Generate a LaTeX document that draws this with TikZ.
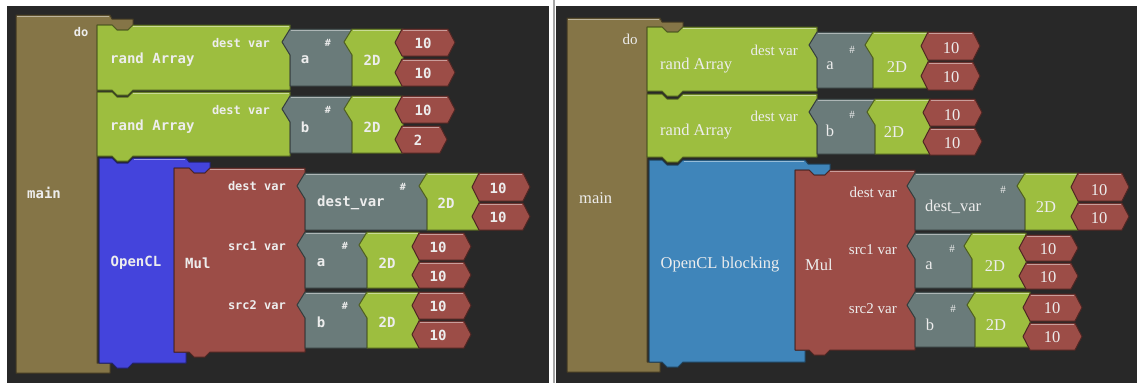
\documentclass[tikz,border=0pt]{standalone}
\usepackage{fontspec}
\newfontfamily\lmono{DejaVu Sans Mono}
\newfontfamily\rserif{Liberation Serif}
\definecolor{bgC}{HTML}{282828}
\definecolor{oliveC}{HTML}{857547}
\definecolor{greenC}{HTML}{9DBE3F}
\definecolor{grayC}{HTML}{6A7B7A}
\definecolor{redC}{HTML}{9C4D47}
\definecolor{blueL}{HTML}{4444DC}
\definecolor{blueR}{HTML}{3F85BA}
\definecolor{txtC}{HTML}{EDEDED}
\tikzset{
  blk/.style={line width=1pt, line join=round},
  hl/.style={line width=1.2pt, draw=#1!55!white},
  lt/.style={text=txtC, inner sep=0pt, font=\lmono\bfseries\fontsize{14}{16}\selectfont},
  ltl/.style={text=txtC, inner sep=0pt, font=\lmono\bfseries\fontsize{12}{14}\selectfont},
  lth/.style={text=txtC, inner sep=0pt, font=\lmono\bfseries\fontsize{10}{12}\selectfont},
  rt/.style={text=txtC, inner sep=0pt, font=\rserif\fontsize{16.5}{18}\selectfont},
  rtl/.style={text=txtC, inner sep=0pt, font=\rserif\fontsize{15}{17}\selectfont},
  rth/.style={text=txtC, inner sep=0pt, font=\rserif\fontsize{11}{13}\selectfont},
}
% statement block: x0 y0 x1 y1 colour notch-offset
\newcommand{\stmtblk}[6]{%
  \filldraw[blk, fill=#5, draw=#5!50!black] (#1,#2) -- ({#1+#6},#2) -- ++(5,5) -- ++(11,0) -- ++(5,-5) -- (#3,#2) -- (#3,#4) -- ({#1+#6+21},#4) -- ++(-5,5) -- ++(-11,0) -- ++(-5,-5) -- (#1,#4) -- cycle;
  \draw[hl=#5] ({#1+#6+21},{#2+1.5}) -- ({#3-1},{#2+1.5});}
% value block with left plug
\newcommand{\valblk}[5]{%
  \filldraw[blk, fill=#5, draw=#5!50!black] (#1,#2) -- (#3,#2) -- (#3,#4) -- (#1,#4) -- (#1,{#2+26}) -- ({#1-8},{#2+13}) -- cycle;
  \draw[hl=#5] ({#1+1},{#2+1.5}) -- ({#3-1},{#2+1.5});}
% number hexagon
\newcommand{\hexblk}[4]{%
  \filldraw[blk, fill=redC, draw=redC!50!black] (#1,#2) -- (#3,#2) -- ({#3+7},{(#2+#4)/2}) -- (#3,#4) -- (#1,#4) -- ({#1-7},{(#2+#4)/2}) -- cycle;
  \draw[hl=redC] ({#1+1},{#2+1.5}) -- ({#3-1},{#2+1.5});}
\begin{document}
\begin{tikzpicture}[x=1pt,y=-1pt]
\useasboundingbox (0,0) rectangle (1137,383);
\fill[white] (0,0) rectangle (1137,383);
\fill[bgC] (7,6) rectangle (549,383);
\fill[bgC] (556,6) rectangle (1137,383);
\draw[black!35, line width=1.5pt] (554,0) -- (554,383);

% ================= LEFT PANEL =================
\filldraw[blk, fill=oliveC, draw=oliveC!50!black] (16,15) -- (110,15) -- (112,19) -- (133,19) -- (133,25) -- (128,30) -- (117,30) -- (112,25) -- (97,25) -- (97,363) -- (110,363) -- (110,373) -- (16,373) -- cycle;
\draw[hl=oliveC] (17,16.5) -- (109,16.5);
\stmtblk{97}{25}{290}{90}{greenC}{15}
\valblk{290}{29}{352}{86}{grayC}
\valblk{352}{29}{403}{86}{greenC}
\hexblk{402}{29}{448}{56}
\hexblk{402}{59}{448}{86}
\stmtblk{97}{92}{290}{156}{greenC}{15}
\valblk{290}{96}{352}{153}{grayC}
\valblk{352}{96}{403}{153}{greenC}
\hexblk{402}{96}{448}{123}
\hexblk{402}{126}{440}{153}
\filldraw[blk, fill=blueL, draw=blueL!50!black] (99,158) -- (112,158) -- (117,163) -- (128,163) -- (133,158) -- (186,158) -- (189,162) -- (210,162) -- (210,168) -- (205,173) -- (194,173) -- (189,168) -- (174,168) -- (174,352) -- (186,352) -- (186,363) -- (133,363) -- (128,368) -- (117,368) -- (112,363) -- (99,363) -- cycle;
\draw[hl=blueL] (134,159.5) -- (185,159.5);
\stmtblk{174}{168}{305}{352}{redC}{15}
\valblk{305}{173}{427}{230}{grayC}
\valblk{427}{173}{479}{230}{greenC}
\hexblk{479}{173}{523}{201}
\hexblk{479}{203}{523}{230}
\valblk{305}{232}{367}{288}{grayC}
\valblk{367}{232}{419}{288}{greenC}
\hexblk{419}{233}{464}{260}
\hexblk{419}{262}{464}{288}
\valblk{305}{292}{367}{348}{grayC}
\valblk{367}{292}{419}{348}{greenC}
\hexblk{419}{292}{464}{319}
\hexblk{419}{321}{464}{348}

\node[ltl] (Ldo) at (81,32) {do};
\node[lt, anchor=west] (Lmain) at (27,193) {main};
\node[lt, anchor=west] (Lrand1) at (110,60) {rand Array};
\node[ltl, anchor=east] (Ldv1) at (270,43) {dest var};
\node[lt] (La1) at (305,60) {a};
\node[lth] (Lh1) at (328,43) {\#};
\node[lt] (L2d1) at (372,60) {2D};
\node[lt] (Ln11) at (423,43) {10};
\node[lt] (Ln12) at (423,73) {10};
\node[lt, anchor=west] (Lrand2) at (110,127) {rand Array};
\node[ltl, anchor=east] (Ldv2) at (270,110) {dest var};
\node[lt] (Lb2) at (305,127) {b};
\node[lth] (Lh2) at (328,110) {\#};
\node[lt] (L2d2) at (372,127) {2D};
\node[lt] (Ln21) at (423,110) {10};
\node[lt] (Ln22) at (418,140) {2};
\node[lt] (Locl) at (136,263) {OpenCL};
\node[lt, anchor=west] (Lmul) at (185,263) {Mul};
\node[ltl, anchor=east] (Lmdv) at (286,186) {dest var};
\node[ltl, anchor=east] (Lms1) at (286,246) {src1 var};
\node[ltl, anchor=east] (Lms2) at (286,305) {src2 var};
\node[lt, anchor=west] (Ldvv) at (317,203) {dest\_var};
\node[lth] (Lh3) at (403,187) {\#};
\node[lt] (L2d3) at (446,203) {2D};
\node[lt] (Ln31) at (498,188) {10};
\node[lt] (Ln32) at (498,217) {10};
\node[lt] (La4) at (321,263) {a};
\node[lth] (Lh4) at (345,246) {\#};
\node[lt] (L2d4) at (387,263) {2D};
\node[lt] (Ln41) at (438,247) {10};
\node[lt] (Ln42) at (438,276) {10};
\node[lt] (Lb5) at (321,322) {b};
\node[lth] (Lh5) at (345,306) {\#};
\node[lt] (L2d5) at (387,322) {2D};
\node[lt] (Ln51) at (438,306) {10};
\node[lt] (Ln52) at (438,335) {10};

% ================= RIGHT PANEL =================
\filldraw[blk, fill=oliveC, draw=oliveC!50!black] (567,18) -- (660,18) -- (662,22) -- (683,22) -- (683,27) -- (678,32) -- (667,32) -- (662,27) -- (647,27) -- (647,362) -- (660,362) -- (660,372) -- (567,372) -- cycle;
\draw[hl=oliveC] (568,19.5) -- (659,19.5);
\stmtblk{647}{27}{817}{91}{greenC}{15}
\valblk{817}{32}{873}{88}{grayC}
\valblk{873}{32}{928}{88}{greenC}
\hexblk{928}{32}{973}{60}
\hexblk{928}{62}{973}{90}
\stmtblk{647}{94}{817}{157}{greenC}{15}
\valblk{817}{99}{875}{154}{grayC}
\valblk{875}{99}{930}{154}{greenC}
\hexblk{930}{99}{975}{126}
\hexblk{930}{128}{975}{155}
\filldraw[blk, fill=blueR, draw=blueR!50!black] (649,160) -- (662,160) -- (667,165) -- (678,165) -- (683,160) -- (805,160) -- (808,164) -- (830,164) -- (830,170) -- (825,175) -- (814,175) -- (809,170) -- (795,170) -- (795,350) -- (805,350) -- (805,362) -- (683,362) -- (678,367) -- (667,367) -- (662,362) -- (649,362) -- cycle;
\draw[hl=blueR] (684,161.5) -- (804,161.5);
\stmtblk{795}{170}{915}{350}{redC}{14}
\valblk{915}{173}{1025}{230}{grayC}
\valblk{1025}{173}{1078}{230}{greenC}
\hexblk{1078}{173}{1122}{201}
\hexblk{1078}{203}{1122}{230}
\valblk{915}{233}{972}{288}{grayC}
\valblk{972}{233}{1026}{288}{greenC}
\hexblk{1026}{235}{1071}{261}
\hexblk{1026}{263}{1071}{289}
\valblk{915}{292}{975}{347}{grayC}
\valblk{975}{292}{1030}{347}{greenC}
\hexblk{1030}{294}{1075}{321}
\hexblk{1030}{323}{1075}{350}

\node[rtl] (Rdo) at (630,39) {do};
\node[rt, anchor=west] (Rmain) at (579,198) {main};
\node[rt, anchor=west] (Rrand1) at (660,66) {rand Array};
\node[rtl, anchor=east] (Rdv1) at (798,50) {dest var};
\node[rt] (Ra1) at (830,66) {a};
\node[rth] (Rh1) at (852,50) {\#};
\node[rt] (R2d1) at (897,67) {2D};
\node[rt] (Rn11) at (951,48) {10};
\node[rt] (Rn12) at (951,77) {10};
\node[rt, anchor=west] (Rrand2) at (660,132) {rand Array};
\node[rtl, anchor=east] (Rdv2) at (798,116) {dest var};
\node[rt] (Rb2) at (830,131) {b};
\node[rth] (Rh2) at (852,115) {\#};
\node[rt] (R2d2) at (894,132) {2D};
\node[rt] (Rn21) at (952,115) {10};
\node[rt] (Rn22) at (952,143) {10};
\node[rt] (Rocl) at (720,265) {OpenCL blocking};
\node[rt, anchor=west] (Rmul) at (805,265) {Mul};
\node[rtl, anchor=east] (Rmdv) at (897,192) {dest var};
\node[rtl, anchor=east] (Rms1) at (897,250) {src1 var};
\node[rtl, anchor=east] (Rms2) at (897,309) {src2 var};
\node[rt, anchor=west] (Rdvv) at (925,207) {dest\_var};
\node[rth] (Rh3) at (1003,190) {\#};
\node[rt] (R2d3) at (1046,207) {2D};
\node[rt] (Rn31) at (1099,190) {10};
\node[rt] (Rn32) at (1099,218) {10};
\node[rt] (Ra4) at (929,266) {a};
\node[rth] (Rh4) at (952,249) {\#};
\node[rt] (R2d4) at (995,266) {2D};
\node[rt] (Rn41) at (1048,249) {10};
\node[rt] (Rn42) at (1048,277) {10};
\node[rt] (Rb5) at (930,325) {b};
\node[rth] (Rh5) at (953,309) {\#};
\node[rt] (R2d5) at (996,325) {2D};
\node[rt] (Rn51) at (1052,308) {10};
\node[rt] (Rn52) at (1052,337) {10};
\end{tikzpicture}
\end{document}
